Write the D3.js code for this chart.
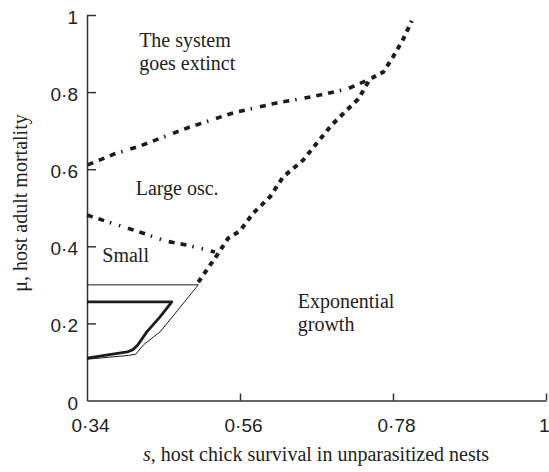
<!DOCTYPE html>
<html><head><meta charset="utf-8">
<script src="https://cdn.jsdelivr.net/npm/d3@7"></script>
<style>body{margin:0;background:#fff}svg{display:block}</style>
</head><body>
<svg id="c" width="549" height="472"></svg>
<script>
// Data
const xTicks = [0.34, 0.56, 0.78, 1];
const xTickLabels = ["0·34", "0·56", "0·78", "1"];
const yTicks = [0, 0.2, 0.4, 0.6, 0.8, 1];
const yTickLabels = ["0", "0·2", "0·4", "0·6", "0·8", "1"];

// upper boundary (extinction) dash-dot
const upperS = [0.341, 0.380, 0.416, 0.484, 0.550, 0.613, 0.646, 0.682, 0.714, 0.747];
const upperMu = [0.611, 0.640, 0.660, 0.707, 0.746, 0.772, 0.782, 0.795, 0.808, 0.834];
// lower boundary (small/large osc) dash-dot
const lowerS = [0.340, 0.376, 0.421, 0.452, 0.484, 0.514, 0.524];
const lowerMu = [0.481, 0.460, 0.434, 0.414, 0.403, 0.390, 0.385];
// steep dotted boundary
const steepS = [0.500, 0.510, 0.527, 0.543, 0.560, 0.579, 0.603, 0.622, 0.651, 0.672, 0.692, 0.714, 0.730, 0.747, 0.766, 0.780, 0.794, 0.807];
const steepMu = [0.307, 0.333, 0.377, 0.421, 0.440, 0.486, 0.528, 0.580, 0.624, 0.671, 0.715, 0.754, 0.782, 0.834, 0.852, 0.891, 0.935, 0.985];
// thin solid region
const thinS = [0.34, 0.500, 0.474, 0.445, 0.421, 0.410, 0.400, 0.34];
const thinMu = [0.300, 0.300, 0.242, 0.178, 0.144, 0.120, 0.117, 0.107];
// thick solid region
const thickS = [0.34, 0.462, 0.445, 0.426, 0.413, 0.406, 0.398, 0.34];
const thickMu = [0.256, 0.256, 0.217, 0.178, 0.144, 0.132, 0.126, 0.110];

const regionLabels = [
  {lines: ["The system", "goes extinct"], s: 0.415, mu: 0.917},
  {lines: ["Large osc."], s: 0.410, mu: 0.533},
  {lines: ["Small"], s: 0.362, mu: 0.359},
  {lines: ["Exponential", "growth"], s: 0.643, mu: 0.240}
];

const svg = d3.select("#c");
const x = d3.scaleLinear().domain([0.34, 1]).range([87, 546]);
const y = d3.scaleLinear().domain([0, 1]).range([400.5, 15]);
const ink = "#1c1c1c";
const serif = "'Liberation Serif', 'Times New Roman', Times, serif";

// axes
const xAxis = d3.axisBottom(x).tickValues(xTicks).tickSizeInner(-7).tickSizeOuter(0)
  .tickFormat((d, i) => xTickLabels[i]).tickPadding(18);
const yAxis = d3.axisLeft(y).tickValues(yTicks).tickSizeInner(-9).tickSizeOuter(0)
  .tickFormat((d, i) => yTickLabels[i]).tickPadding(9);

const gx = svg.append("g").attr("transform", `translate(0,${y(0)})`).call(xAxis);
const gy = svg.append("g").attr("transform", `translate(${x(0.34)},0)`).call(yAxis);
[gx, gy].forEach(g => {
  g.select(".domain").attr("stroke", "#333").attr("stroke-width", 1.5);
  g.selectAll(".tick line").attr("stroke", "#333").attr("stroke-width", 1.5);
  g.selectAll(".tick text").attr("fill", "#222").attr("font-family", "'Liberation Sans', Arial, sans-serif").attr("font-size", 19);
});
gx.selectAll(".tick text").attr("dx", 3);
gx.selectAll(".tick").filter(d => d === 1).select("text").attr("text-anchor", "end").attr("dx", 3);
gy.selectAll(".tick text").attr("dy", "0.45em");
gx.selectAll(".tick").filter(d => d === 0.34).select("line").remove();
gy.selectAll(".tick").filter(d => d === 0).select("line").remove();

const line = d3.line().x(d => x(d[0])).y(d => y(d[1]));
const zip = (a, b) => a.map((v, i) => [v, b[i]]);

svg.append("path").datum(zip(thinS, thinMu)).attr("d", line)
  .attr("fill", "none").attr("stroke", ink).attr("stroke-width", 1);
svg.append("path").datum(zip(thickS, thickMu)).attr("d", line)
  .attr("fill", "none").attr("stroke", ink).attr("stroke-width", 2.8).attr("stroke-linejoin", "round");

svg.append("path").datum(zip(upperS, upperMu)).attr("d", line)
  .attr("fill", "none").attr("stroke", ink).attr("stroke-width", 3.6)
  .attr("stroke-dasharray", "6,6,6,6,6,6,1.5,8");
svg.append("path").datum(zip(lowerS, lowerMu)).attr("d", line)
  .attr("fill", "none").attr("stroke", ink).attr("stroke-width", 3.6)
  .attr("stroke-dasharray", "6,6,6,6,1.5,8,1.5,8");
svg.append("path").datum(zip(steepS, steepMu)).attr("d", line)
  .attr("fill", "none").attr("stroke", ink).attr("stroke-width", 4)
  .attr("stroke-dasharray", "5,5");

// region labels
regionLabels.forEach(r => {
  const t = svg.append("text").attr("x", x(r.s)).attr("y", y(r.mu))
    .attr("font-family", serif).attr("font-size", 20).attr("fill", "#222");
  r.lines.forEach((l, i) => t.append("tspan").attr("x", x(r.s)).attr("dy", i === 0 ? 0 : 23).text(l));
});

// axis titles
const xt = svg.append("text").attr("x", 316).attr("y", 461).attr("text-anchor", "middle")
  .attr("font-family", serif).attr("font-size", 20).attr("fill", "#222");
xt.append("tspan").attr("font-style", "italic").text("s");
xt.append("tspan").text(", host chick survival in unparasitized nests");

svg.append("text").attr("transform", `translate(27,203) rotate(-90)`).attr("text-anchor", "middle")
  .attr("font-family", serif).attr("font-size", 20).attr("fill", "#222")
  .text("μ, host adult mortality");
</script>
</body></html>
